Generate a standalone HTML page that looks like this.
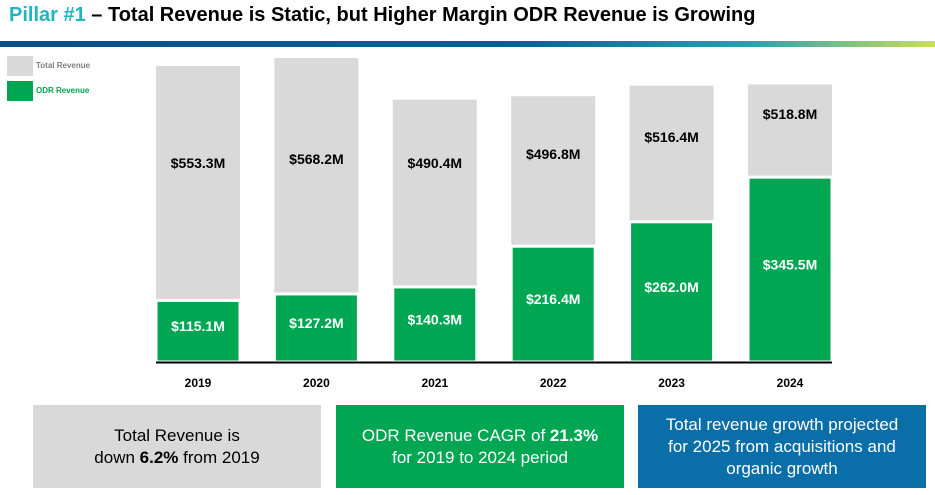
<!DOCTYPE html>
<html><head><meta charset="utf-8"><style>
body{margin:0;width:935px;height:495px;background:#fff;font-family:"Liberation Sans",sans-serif;overflow:hidden;position:relative}
.title{position:absolute;left:9px;top:4px;font-size:20px;font-weight:bold;color:#000;white-space:nowrap}
.title span{color:#1fb5c0}
.band{position:absolute;left:0;top:41px;width:935px;height:6px;background:linear-gradient(90deg,#0a4f8a 0%,#0a5f98 55%,#2a9fb0 80%,#c8e05a 100%)}
.leg{position:absolute;left:7px;width:26px;height:20px}
.legt{position:absolute;left:36px;font-size:8px;font-weight:bold}
.box{position:absolute;top:405px;height:83px;width:288px;display:flex;align-items:center;justify-content:center;text-align:center;font-size:17px;line-height:22px}
</style></head><body>
<div class="title"><span>Pillar #1</span> – Total Revenue is Static, but Higher Margin ODR Revenue is Growing</div>
<div class="band"></div>
<div class="leg" style="top:56px;background:#d9d9d9"></div>
<div class="legt" style="top:61px;color:#7f7f7f">Total Revenue</div>
<div class="leg" style="top:81px;background:#00a651"></div>
<div class="legt" style="top:86px;color:#00a651">ODR Revenue</div>
<svg id="chart" width="935" height="400" style="position:absolute;left:0;top:0"></svg>
<div class="box" style="left:33px;background:#d9d9d9;color:#000"><div>Total Revenue is<br>down <b>6.2%</b> from 2019</div></div>
<div class="box" style="left:336px;background:#00a651;color:#fff"><div>ODR Revenue CAGR of <b>21.3%</b><br>for 2019 to 2024 period</div></div>
<div class="box" style="left:638px;background:#0a6ea8;color:#fff"><div>Total revenue growth projected<br>for 2025 from acquisitions and<br>organic growth</div></div>
<script>
const years=["2019","2020","2021","2022","2023","2024"];
const totalRev=[553.3,568.2,490.4,496.8,516.4,518.8];
const odrRev=[115.1,127.2,140.3,216.4,262.0,345.5];
const NS="http://www.w3.org/2000/svg";
const svg=document.getElementById('chart');
const base=362, k=0.535, x0=156, step=118.4, bw=84;
const y=v=>base-v*k, x=i=>x0+i*step;
function el(t,a){const e=document.createElementNS(NS,t);for(const p in a)e.setAttribute(p,a[p]);svg.appendChild(e);return e;}
years.forEach((yr,i)=>{
  const tt=y(totalRev[i]), ot=y(odrRev[i]);
  const g=el('rect',{x:x(i),y:tt,width:bw,height:base-tt,fill:'#d9d9d9'});
  
  
  const o=el('rect',{x:x(i),y:ot,width:bw,height:base-ot,fill:'#00a651',stroke:'#fff','stroke-width':3});
  
  
  const t1=el('text',{x:x(i)+bw/2,y:Math.min((tt+ot)/2-12,168),'text-anchor':'middle','font-size':14,'font-weight':'bold',fill:'#000'});
  t1.textContent='$'+totalRev[i].toFixed(1)+'M';
  
  
  const t2=el('text',{x:x(i)+bw/2,y:(ot+base)/2,'text-anchor':'middle','font-size':14,'font-weight':'bold',fill:'#fff'});
  t2.textContent='$'+odrRev[i].toFixed(1)+'M';
  
  
  const t3=el('text',{x:x(i)+bw/2,y:387,'text-anchor':'middle','font-size':12,'font-weight':'bold',fill:'#000'});
  t3.textContent=yr;
  
  
});
const ax=el('line',{x1:156,x2:832,y1:base+0.5,y2:base+0.5,stroke:'#000','stroke-width':2});


</script>
</body></html>
